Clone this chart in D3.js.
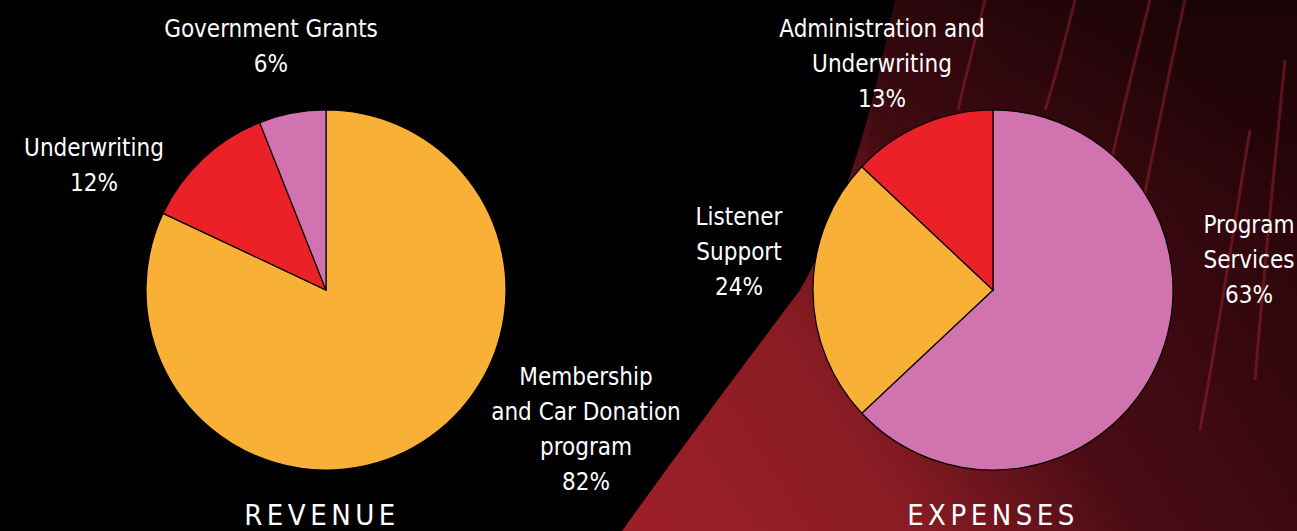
<html>
<head>
<meta charset="UTF-8">
<script src="https://d3js.org/d3.v7.min.js"></script>
<style>
  body { margin: 0; background: #000; }
  text { font-family: "Liberation Sans Narrow", "DejaVu Sans Condensed", sans-serif; fill: #fff; }
</style>
</head>
<body>
<svg id="chart" width="1297" height="531"></svg>
<script>
// revenue data
const revenueLabels = [["Membership", "and Car Donation", "program"], ["Underwriting"], ["Government Grants"]];
const revenueValues = [82, 12, 6];
// expenses data
const expenseLabels = [["Program", "Services"], ["Listener", "Support"], ["Administration and", "Underwriting"]];
const expenseValues = [63, 24, 13];
const sliceColors = ["#f9b037", "#ec2027", "#d073ae"];
const expenseColors = ["#d073ae", "#f9b037", "#ec2027"];

let svg = d3.select("svg#chart");
let width = +svg.attr("width");
let height = +svg.attr("height");

// background: black with a red photo-ish area on the right
let defs = svg.append("defs");
let g1 = defs.append("linearGradient").attr("id", "redGrad")
  .attr("x1", "0").attr("y1", "0.85").attr("x2", "1").attr("y2", "0.35");
g1.append("stop").attr("offset", "0").attr("stop-color", "#9c1f28");
g1.append("stop").attr("offset", "0.3").attr("stop-color", "#871b23");
g1.append("stop").attr("offset", "0.55").attr("stop-color", "#4a0c14");
g1.append("stop").attr("offset", "1").attr("stop-color", "#28050a");
let g2 = defs.append("linearGradient").attr("id", "topGrad")
  .attr("x1", "0").attr("y1", "0").attr("x2", "0").attr("y2", "1");
g2.append("stop").attr("offset", "0").attr("stop-color", "#000").attr("stop-opacity", 0.35);
g2.append("stop").attr("offset", "1").attr("stop-color", "#000").attr("stop-opacity", 0);

svg.append("rect").attr("width", width).attr("height", height).attr("fill", "#000");
svg.append("path")
  .attr("d", "M622,531 C680,450 740,370 800,290 C835,230 860,150 875,90 L895,0 L1297,0 L1297,531 Z")
  .attr("fill", "url(#redGrad)");
// slightly darker top of the photo
svg.append("path")
  .attr("d", "M875,90 L895,0 L1297,0 L1297,200 L860,200 Z")
  .attr("fill", "url(#topGrad)");

// a few streaks in the photo
const streaks = [
  "M1150,0 C1135,60 1120,120 1105,190", "M1185,0 C1165,90 1150,170 1135,240",
  "M985,0 C975,40 965,80 958,110", "M1075,0 C1065,40 1055,80 1045,110",
  "M1250,130 C1235,220 1220,320 1200,430", "M1285,60 C1275,160 1265,260 1255,380"
];
svg.selectAll("path.streak").data(streaks).enter().append("path")
  .attr("class", "streak").attr("d", d => d)
  .attr("fill", "none").attr("stroke", "#a8262f").attr("stroke-width", 3).attr("opacity", 0.45);

const radius = 180;
let pie = d3.pie().sort(null).value(d => d);
let arc = d3.arc().innerRadius(0).outerRadius(radius);

function drawPie(cx, cy, values, colors) {
  let g = svg.append("g").attr("transform", `translate(${cx},${cy})`);
  g.selectAll("path").data(pie(values)).enter().append("path")
    .attr("d", arc)
    .attr("fill", (d, i) => colors[i])
    .attr("stroke", "#000")
    .attr("stroke-width", 1.2);
}

drawPie(326, 290, revenueValues, sliceColors);
drawPie(993, 290, expenseValues, expenseColors);

// labels: centre x and first baseline
function drawLabel(x, y, lines, value) {
  let t = svg.append("text").attr("text-anchor", "middle").attr("font-size", 24);
  lines.concat([value + "%"]).forEach((s, i) => {
    t.append("tspan").attr("x", x).attr("y", y + i * 35).text(s);
  });
}
const revenuePos = [[586, 385], [94, 156], [271, 37]];
const expensePos = [[1249, 233], [739, 225], [882, 37]];
revenueValues.forEach((v, i) => drawLabel(revenuePos[i][0], revenuePos[i][1], revenueLabels[i], v));
expenseValues.forEach((v, i) => drawLabel(expensePos[i][0], expensePos[i][1], expenseLabels[i], v));

// titles
const titles = ["REVENUE", "EXPENSES"];
const titleX = [322, 993];
titles.forEach((s, i) => {
  svg.append("text").attr("x", titleX[i]).attr("y", 525)
    .attr("text-anchor", "middle").attr("font-size", 29)
    .attr("letter-spacing", 4.5).text(s);
});
</script>
</body>
</html>
